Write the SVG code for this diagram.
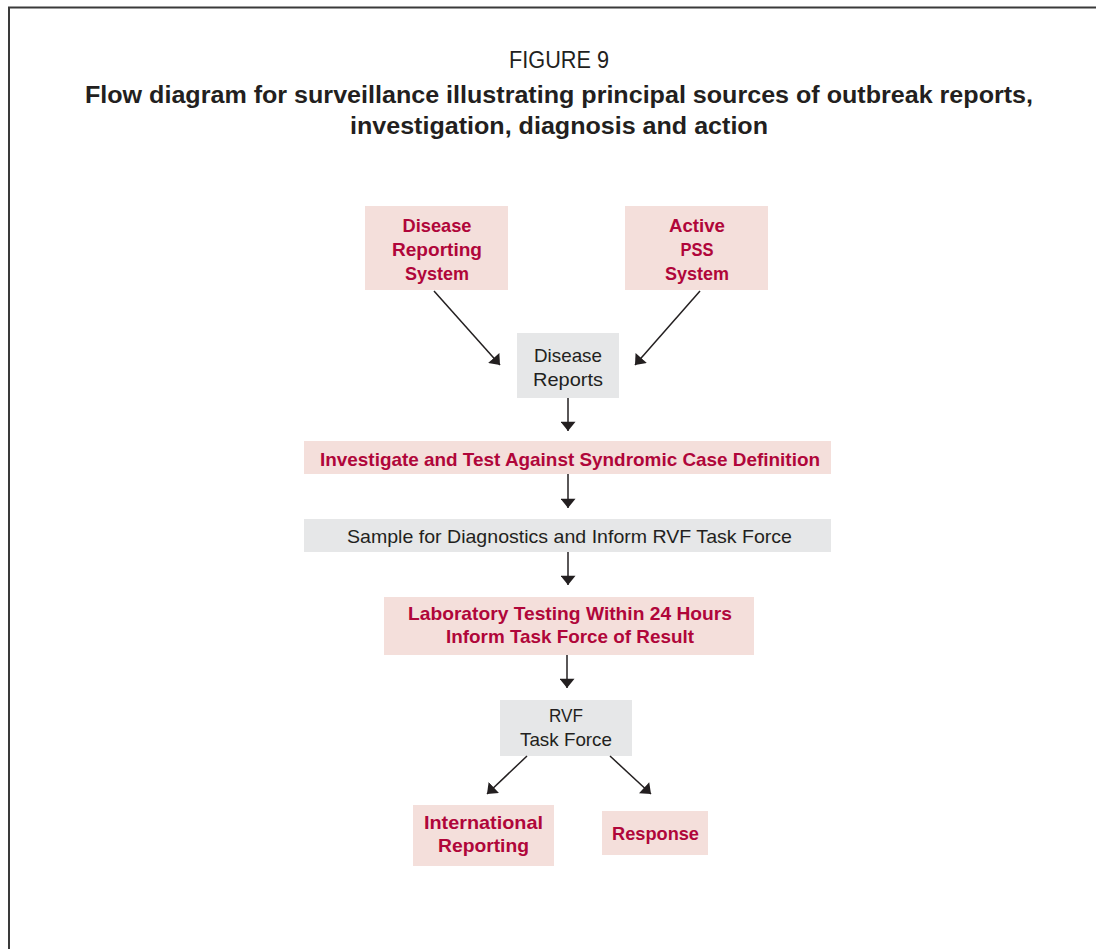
<svg xmlns="http://www.w3.org/2000/svg" width="1096" height="949" viewBox="0 0 1096 949">
<style>
  .pink { fill: #f4dfdb; }
  .grey { fill: #e6e7e8; }
  .red { fill: #b0063a; font-family: "Liberation Sans", Arial, sans-serif; font-weight: bold; font-size: 19px; text-anchor: middle; }
  .dark { fill: #231f20; font-family: "Liberation Sans", Arial, sans-serif; font-size: 19px; text-anchor: middle; }
  .title { fill: #231f20; font-family: "Liberation Sans", Arial, sans-serif; font-size: 23px; text-anchor: middle; }
  .conn { stroke: #231f20; stroke-width: 1.5; fill: none; marker-end: url(#ah); }
</style>
<defs>
  <marker id="ah" viewBox="0 0 10 16" markerWidth="10" markerHeight="15" refX="10" refY="8" orient="auto" markerUnits="userSpaceOnUse">
    <path d="M0,0 L10,8 L0,16 z" fill="#231f20"/>
  </marker>
</defs>
<rect width="1096" height="949" fill="#ffffff"/>
<path d="M9,949 L9,7.5 L1096,7.5" fill="none" stroke="#3a3a3a" stroke-width="2"/>
<g id="title">
  <text class="title" x="559" y="68" textLength="100" lengthAdjust="spacingAndGlyphs">FIGURE 9</text>
  <text class="title" x="559" y="103" font-weight="bold" textLength="948" lengthAdjust="spacingAndGlyphs">Flow diagram for surveillance illustrating principal sources of outbreak reports,</text>
  <text class="title" x="559" y="134" font-weight="bold" textLength="418" lengthAdjust="spacingAndGlyphs">investigation, diagnosis and action</text>
</g>
<g id="node-disease-reporting-system">
  <rect class="pink" x="365" y="206" width="143" height="84"/>
  <text class="red" x="437" y="232" textLength="69" lengthAdjust="spacingAndGlyphs">Disease</text>
  <text class="red" x="437" y="256" textLength="90" lengthAdjust="spacingAndGlyphs">Reporting</text>
  <text class="red" x="437" y="280" textLength="64" lengthAdjust="spacingAndGlyphs">System</text>
</g>
<g id="node-active-pss">
  <rect class="pink" x="625" y="206" width="143" height="84"/>
  <text class="red" x="697" y="232" textLength="56" lengthAdjust="spacingAndGlyphs">Active</text>
  <text class="red" x="697" y="256" textLength="33" lengthAdjust="spacingAndGlyphs">PSS</text>
  <text class="red" x="697" y="280" textLength="64" lengthAdjust="spacingAndGlyphs">System</text>
</g>
<g id="node-disease-reports">
  <rect class="grey" x="517" y="333" width="102" height="65"/>
  <text class="dark" x="568" y="362" textLength="68" lengthAdjust="spacingAndGlyphs">Disease</text>
  <text class="dark" x="568" y="386" textLength="70" lengthAdjust="spacingAndGlyphs">Reports</text>
</g>
<g id="node-investigate">
  <rect class="pink" x="304" y="441" width="527" height="33"/>
  <text class="red" x="570" y="466" textLength="500" lengthAdjust="spacingAndGlyphs">Investigate and Test Against Syndromic Case Definition</text>
</g>
<g id="node-sample">
  <rect class="grey" x="304" y="519" width="527" height="33"/>
  <text class="dark" x="569.5" y="543" textLength="445" lengthAdjust="spacingAndGlyphs">Sample for Diagnostics and Inform RVF Task Force</text>
</g>
<g id="node-laboratory">
  <rect class="pink" x="384" y="597" width="370" height="58"/>
  <text class="red" x="570" y="620" textLength="324" lengthAdjust="spacingAndGlyphs">Laboratory Testing Within 24 Hours</text>
  <text class="red" x="570" y="643" textLength="248" lengthAdjust="spacingAndGlyphs">Inform Task Force of Result</text>
</g>
<g id="node-rvf-task-force">
  <rect class="grey" x="500" y="700" width="132" height="56"/>
  <text class="dark" x="566" y="722" textLength="34" lengthAdjust="spacingAndGlyphs">RVF</text>
  <text class="dark" x="566" y="746" textLength="92" lengthAdjust="spacingAndGlyphs">Task Force</text>
</g>
<g id="node-international-reporting">
  <rect class="pink" x="413" y="805" width="141" height="61"/>
  <text class="red" x="483.5" y="829" textLength="119" lengthAdjust="spacingAndGlyphs">International</text>
  <text class="red" x="483.5" y="852" textLength="91" lengthAdjust="spacingAndGlyphs">Reporting</text>
</g>
<g id="node-response">
  <rect class="pink" x="602" y="811" width="106" height="44"/>
  <text class="red" x="655.5" y="840" textLength="87" lengthAdjust="spacingAndGlyphs">Response</text>
</g>
<g id="connectors">
  <line class="conn" x1="434" y1="291" x2="500" y2="365"/>
  <line class="conn" x1="700" y1="291" x2="635" y2="365"/>
  <line class="conn" x1="568" y1="398" x2="568" y2="431"/>
  <line class="conn" x1="568" y1="474" x2="568" y2="508"/>
  <line class="conn" x1="568" y1="552" x2="568" y2="585"/>
  <line class="conn" x1="567" y1="655" x2="567" y2="688"/>
  <line class="conn" x1="527" y1="756" x2="487" y2="794"/>
  <line class="conn" x1="610" y1="756" x2="651" y2="794"/>
</g>
</svg>
